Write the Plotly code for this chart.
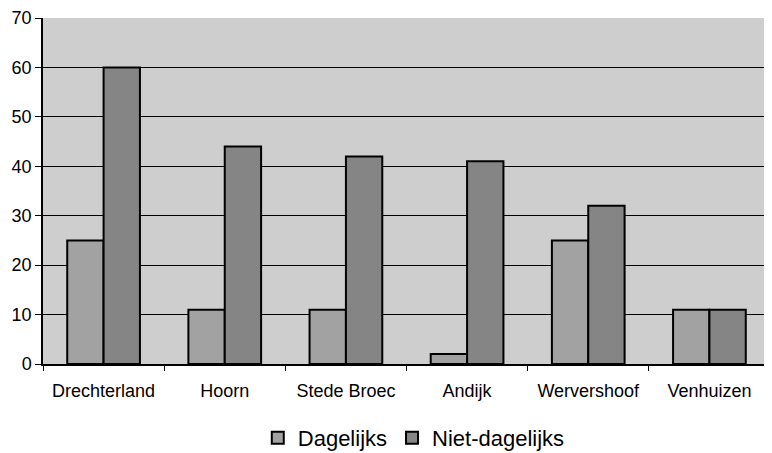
import plotly.graph_objects as go

categories = ["Drechterland", "Hoorn", "Stede Broec", "Andijk", "Wervershoof", "Venhuizen"]
dagelijks = [25, 11, 11, 2, 25, 11]
niet_dagelijks = [60, 44, 42, 41, 32, 11]

fig = go.Figure()
fig.add_trace(go.Bar(x=categories, y=dagelijks, name="Dagelijks",
                     marker=dict(color="#a2a2a2", line=dict(color="black", width=2))))
fig.add_trace(go.Bar(x=categories, y=niet_dagelijks, name="Niet-dagelijks",
                     marker=dict(color="#858585", line=dict(color="black", width=2))))

fig.update_layout(
    width=764, height=445,
    margin=dict(l=35, r=2, t=10, b=89, autoexpand=False),
    paper_bgcolor="white",
    plot_bgcolor="#cecece",
    barmode="group",
    bargap=0.4,
    bargroupgap=0,
    font=dict(family="Liberation Sans, Arial, sans-serif", color="black", size=18),
    legend=dict(orientation="h", x=0.51, xanchor="center", y=-0.214, yanchor="middle",
                font=dict(size=22), itemsizing="constant", traceorder="normal",
                itemwidth=30),
    showlegend=True,
)
fig.update_xaxes(showline=True, linecolor="black", linewidth=1.5,
                 ticks="outside", tickson="boundaries", ticklen=5, tickcolor="black",
                 tickfont=dict(size=18), automargin=False, ticklabelstandoff=10)
fig.update_yaxes(range=[0, 70], dtick=10, showgrid=True, gridcolor="black", gridwidth=1,
                 showline=True, linecolor="black", linewidth=1.5,
                 ticks="outside", ticklen=6, tickcolor="black",
                 tickfont=dict(size=18), zeroline=False, automargin=False)

fig.write_html("out.html")
